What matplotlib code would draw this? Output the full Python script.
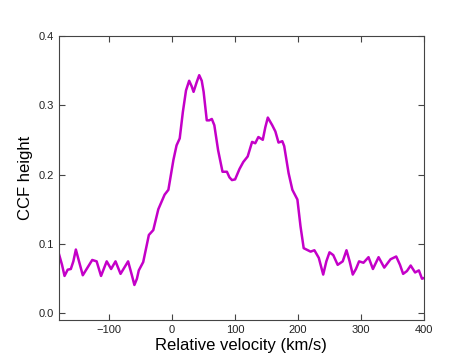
import matplotlib
matplotlib.use("Agg")
import matplotlib.pyplot as plt
import numpy as np

# relative velocity (km/s) and CCF height
vel = [-180, -175, -171, -166, -161, -157, -153, -148, -142, -127, -120, -113,
       -104, -97, -90, -82, -70, -64, -60, -56, -53, -46, -37, -30, -22, -12,
       -6, 2, 7, 12, 17, 22, 27, 31, 34, 39, 43, 47, 50, 55, 59, 63, 67, 73,
       80, 87, 91, 95, 100, 107, 113, 120, 127, 132, 137, 144, 148, 152, 159,
       164, 169, 175, 178, 185, 191, 199, 204, 209, 220, 226, 233, 240, 245,
       250, 256, 263, 271, 277, 282, 287, 292, 297, 304, 312, 319, 328, 337,
       347, 356, 362, 367, 373, 379, 386, 392, 397, 400]
ccf = [0.086, 0.070, 0.054, 0.063, 0.064, 0.075, 0.092, 0.075, 0.055, 0.077,
       0.075, 0.054, 0.075, 0.064, 0.075, 0.057, 0.075, 0.055, 0.041, 0.050,
       0.062, 0.074, 0.113, 0.120, 0.150, 0.171, 0.178, 0.221, 0.242, 0.252,
       0.290, 0.321, 0.335, 0.327, 0.319, 0.333, 0.343, 0.335, 0.319, 0.278,
       0.278, 0.280, 0.271, 0.235, 0.204, 0.204, 0.196, 0.192, 0.193, 0.208,
       0.218, 0.226, 0.247, 0.245, 0.254, 0.250, 0.268, 0.282, 0.271, 0.262,
       0.246, 0.248, 0.241, 0.202, 0.178, 0.164, 0.125, 0.094, 0.089, 0.091,
       0.080, 0.056, 0.075, 0.088, 0.084, 0.070, 0.075, 0.091, 0.075, 0.056,
       0.064, 0.075, 0.073, 0.081, 0.064, 0.081, 0.066, 0.078, 0.082, 0.070,
       0.057, 0.061, 0.069, 0.059, 0.062, 0.050, 0.051]

plt.rcParams['font.family'] = ['Liberation Sans', 'DejaVu Sans']

fig = plt.figure(figsize=(4.71, 3.56), dpi=100)
ax = fig.add_axes([0.125, 0.1, 0.775, 0.8])

ax.plot(vel, ccf, color='#c400c8', lw=1.8, solid_joinstyle='round')

ax.set_xlim(-180, 400)
ax.set_ylim(-0.01, 0.4)
ax.set_xticks([-100, 0, 100, 200, 300, 400])
ax.set_yticks([0.0, 0.1, 0.2, 0.3, 0.4])
ax.tick_params(direction='in', top=True, right=True, length=4,
               labelsize=8, color='#444444', labelcolor='#222222')
for s in ax.spines.values():
    s.set_color('#444444')
ax.set_xlabel('Relative velocity (km/s)', fontsize=12, labelpad=2)
ax.set_ylabel('CCF height', fontsize=12)

fig.savefig('out.png', dpi=100)
